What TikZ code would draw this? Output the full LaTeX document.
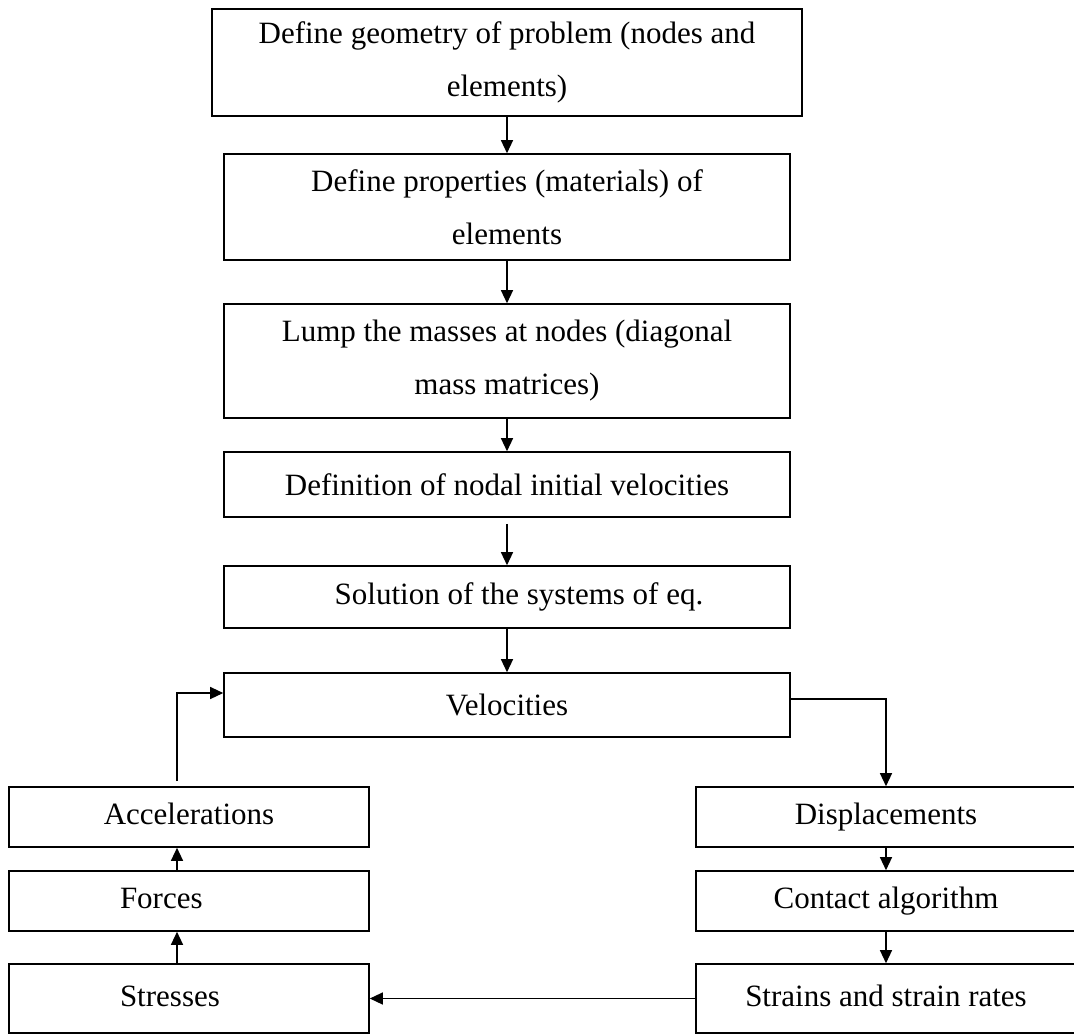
\documentclass[tikz,border=0pt]{standalone}
\usepackage{fontspec}
\setmainfont{Liberation Serif}
\usetikzlibrary{arrows.meta}

\begin{document}
\begin{tikzpicture}[x=1pt,y=-1pt,>={Triangle[length=13pt,width=12pt]}]
\tikzstyle{stage}=[rectangle,draw,line width=1.6pt,inner sep=0pt,align=center,font=\fontsize{31}{53}\selectfont]
\tikzstyle{main}=[stage,minimum width=566pt]
\tikzstyle{side}=[stage,minimum width=360pt,minimum height=60pt,text height=22pt,text depth=7pt]
\tikzstyle{leftpad}=[align=left,text width=138pt,inner xsep=111pt]
\tikzstyle{link}=[->,line width=1.3pt]
\clip (0,0) rectangle (1074,1034);
% main column
\node[stage,minimum width=590pt,minimum height=107pt] (geom) at (507,62.5) {Define geometry of problem (nodes and\\elements)};
\node[main,minimum height=106pt] (prop) at (507,207) {Define properties (materials) of\\elements};
\node[main,minimum height=114pt] (lump) at (507,361) {Lump the masses at nodes (diagonal\\mass matrices)};
\node[main,minimum height=65pt] (init) at (507,484.5) {Definition of nodal initial velocities};
\node[main,minimum height=62pt] (solve) at (507,597) {\hspace*{24pt}Solution of the systems of eq.};
\node[main,minimum height=64pt] (vel) at (507,705) {Velocities};
% left column
\node[side] (acc) at (189,817) {Accelerations};
\node[side,leftpad] (force) at (189,901) {Forces};
\node[side,leftpad,minimum height=69pt] (stress) at (189,998.5) {Stresses};
% right column
\node[side,minimum width=380pt] (disp) at (886,817) {Displacements};
\node[side,minimum width=380pt] (contact) at (886,901) {Contact algorithm};
\node[side,minimum width=380pt,minimum height=69pt] (strain) at (886,998.5) {Strains and strain rates};
\draw[link] (geom) -- (prop);
\draw[link] (prop) -- (lump);
\draw[link] (lump) -- (init);
\draw[link,shorten <=6pt] (init) -- (solve);
\draw[link] (solve) -- (vel);
\draw[link] ([yshift=6pt]vel.east) -| (disp.north);
\draw[link] (disp) -- (contact);
\draw[link] (contact) -- (strain);
\draw[link] (strain) -- (stress);
\draw[link] ([xshift=-12pt]stress.north) -- ([xshift=-12pt]force.south);
\draw[link] ([xshift=-12pt]force.north) -- ([xshift=-12pt]acc.south);
\draw[link,shorten <=5pt] ([xshift=-12pt]acc.north) |- ([yshift=12pt]vel.west);
\end{tikzpicture}
\end{document}
